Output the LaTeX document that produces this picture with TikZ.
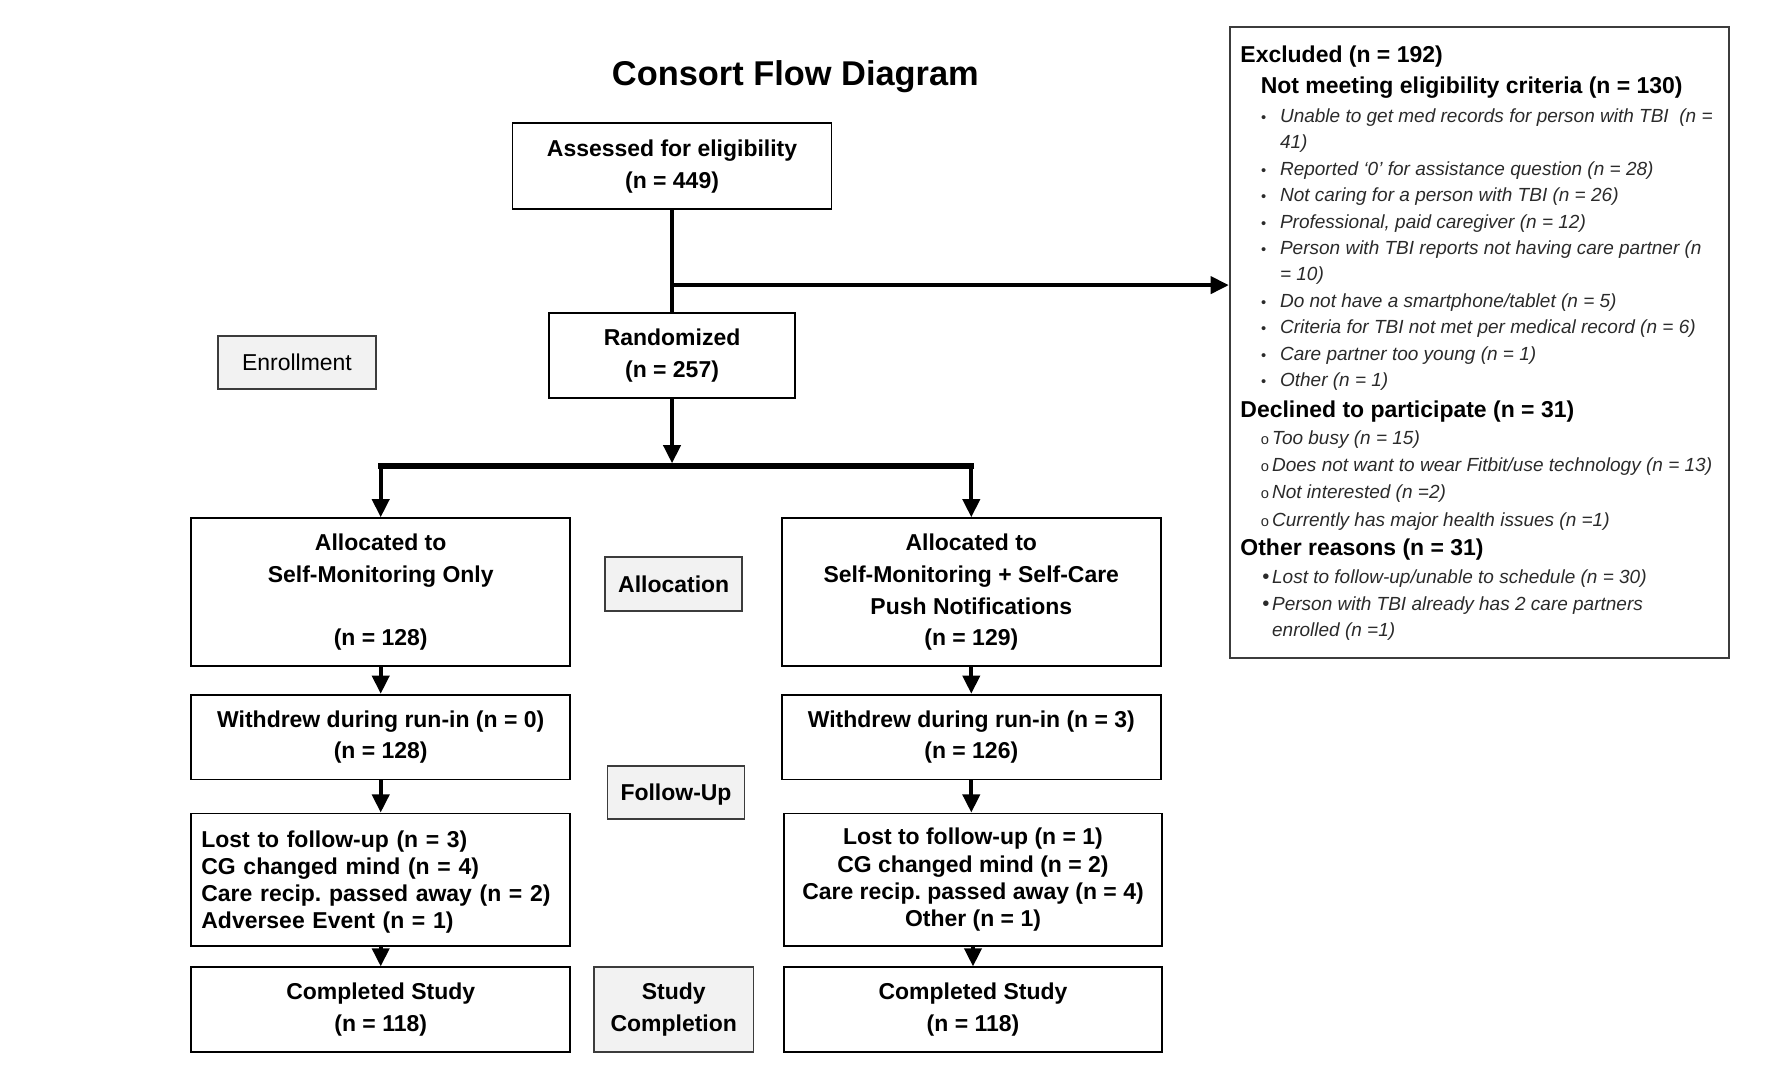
\documentclass[tikz,border=0pt]{standalone}
\usepackage{fontspec}
\setmainfont{Liberation Sans}
\usetikzlibrary{arrows.meta}
\definecolor{lblfill}{HTML}{F2F2F2}
\definecolor{lbldraw}{HTML}{3C3C3C}
\definecolor{itemtxt}{HTML}{2A2A2A}
\newcommand\myBoxFont{\fontsize{10.15}{14}\selectfont\bfseries}
\newcommand\myLostFont{\fontsize{10.15}{12}\selectfont\bfseries}
\newcommand\myRegFont{\fontsize{10.15}{14}\selectfont}
\newcommand\myHdFont{\fontsize{10.15}{12}\selectfont\bfseries}
\newcommand\myItFont{\fontsize{8.4}{10}\selectfont\itshape}
\newcommand\myTitleFont{\fontsize{15.2}{18}\selectfont\bfseries}
\frenchspacing
\begin{document}
\begin{tikzpicture}[x=0.5pt,y=-0.5pt,
 box/.style={draw=black, line width=0.8pt, inner sep=0pt, align=center, font=\myBoxFont, minimum width=167.5pt, minimum height=37.5pt, execute at begin node={\rule{0pt}{9.4pt}}},
 lbl/.style={draw=lbldraw, fill=lblfill, line width=0.8pt, inner sep=0pt, align=center, font=\myBoxFont},
 conn/.style={line width=1.75pt, -{Triangle[width=7.5pt,length=8pt]}},
 trunk/.style={line width=1.75pt},
 exh/.style={anchor=base west, inner sep=0pt, font=\myHdFont},
 exi/.style={anchor=base west, inner sep=0pt, font=\myItFont, text=itemtxt},
 exb/.style={anchor=base, inner sep=0pt, font=\fontsize{6.5}{6}\selectfont, text=itemtxt},
 exo/.style={anchor=base, inner sep=0pt, font=\fontsize{6.5}{6}\selectfont, text=itemtxt},
 exf/.style={anchor=base, inner sep=0pt, font=\fontsize{9}{6}\selectfont, text=itemtxt},
]
\useasboundingbox (0,0) rectangle (1568,952.8);
\node[font=\myTitleFont, inner sep=0pt] (title) at (703,68) {Consort Flow Diagram};

\node[box, minimum width=141pt, minimum height=38pt] (assess) at (594,147) {Assessed for eligibility\\(n = 449)};
\node[box, minimum width=109pt, minimum height=37.5pt] (rand) at (594,314.5) {Randomized\\(n = 257)};
\node[lbl, font=\myRegFont, minimum width=69.5pt, minimum height=23.5pt] (enroll) at (262.5,320.5) {Enrollment};

\node[box, minimum height=65.5pt] (allocL) at (336.5,523.5) {Allocated to\\Self-Monitoring Only\\[14pt](n = 128)};
\node[box, minimum height=65.5pt] (allocR) at (858.5,523.5) {Allocated to\\Self-Monitoring + Self-Care\\Push Notifications\\(n = 129)};
\node[lbl, minimum width=60.5pt, minimum height=24pt] (allocation) at (595.5,516) {Allocation};

\node[box] (withL) at (336.5,651.5) {Withdrew during run-in (n = 0)\\(n = 128)};
\node[box] (withR) at (858.5,651.5) {Withdrew during run-in (n = 3)\\(n = 126)};
\node[lbl, minimum width=60.5pt, minimum height=23.5pt, execute at begin node={\rule{0pt}{9.5pt}}] (follow) at (597.5,700.5) {Follow-Up};

\node[box, font=\myLostFont, minimum height=58.5pt, text width=158.5pt, align=left] (lostL) at (336.5,777.5) {Lost to follow-up (n = 3)\\CG changed mind (n = 4)\\Care recip. passed away (n = 2)\\Adversee Event (n = 1)};
\node[box, font=\myLostFont, minimum width=167pt, minimum height=58.5pt] (lostR) at (860,777.5) {Lost to follow-up (n = 1)\\CG changed mind (n = 2)\\Care recip. passed away (n = 4)\\Other (n = 1)};

\node[box] (compL) at (336.5,892.5) {Completed Study\\(n = 118)};
\node[box, minimum width=167pt] (compR) at (860,892.5) {Completed Study\\(n = 118)};
\node[lbl, minimum width=70.5pt, minimum height=37.5pt, execute at begin node={\rule{0pt}{9.4pt}}] (studyc) at (595.5,892.5) {Study\\Completion};

\node[draw=lbldraw, line width=0.9pt, minimum width=220.5pt, minimum height=279pt, inner sep=0pt] (excl) at (1307.5,303) {};

% excluded text
\begin{scope}[yshift=-1pt]
\node[exh] (e1) at (1096,53) {Excluded (n = 192)};
\node[exh] (e2) at (1114,81) {Not meeting eligibility criteria (n = 130)};
\node[exb] (b1) at (1117,106) {•};
\node[exi] (i1) at (1131,106) {Unable to get med records for person with TBI~~(n =};
\node[exi] (i1b) at (1131,129) {41)};
\node[exb] (b2) at (1117,153) {•};
\node[exi] (i2) at (1131,153) {Reported ‘0’ for assistance question (n = 28)};
\node[exb] (b3) at (1117,176) {•};
\node[exi] (i3) at (1131,176) {Not caring for a person with TBI (n = 26)};
\node[exb] (b4) at (1117,200) {•};
\node[exi] (i4) at (1131,200) {Professional, paid caregiver (n = 12)};
\node[exb] (b5) at (1117,223) {•};
\node[exi] (i5) at (1131,223) {Person with TBI reports not having care partner (n};
\node[exi] (i5b) at (1131,246) {= 10)};
\node[exb] (b6) at (1117,270) {•};
\node[exi] (i6) at (1131,270) {Do not have a smartphone/tablet (n = 5)};
\node[exb] (b7) at (1117,293) {•};
\node[exi] (i7) at (1131,293) {Criteria for TBI not met per medical record (n = 6)};
\node[exb] (b8) at (1117,317) {•};
\node[exi] (i8) at (1131,317) {Care partner too young (n = 1)};
\node[exb] (b9) at (1117,340) {•};
\node[exi] (i9) at (1131,340) {Other (n = 1)};

\node[exh] (e3) at (1096,367) {Declined to participate (n = 31)};
\node[exo] (o1) at (1118,391) {o};
\node[exi] (j1) at (1124,391) {Too busy (n = 15)};
\node[exo] (o2) at (1118,415) {o};
\node[exi] (j2) at (1124,415) {Does not want to wear Fitbit/use technology (n = 13)};
\node[exo] (o3) at (1118,439) {o};
\node[exi] (j3) at (1124,439) {Not interested (n =2)};
\node[exo] (o4) at (1118,463) {o};
\node[exi] (j4) at (1124,463) {Currently has major health issues (n =1)};

\node[exh] (e4) at (1096,489) {Other reasons (n = 31)};
\node[exf] (f1) at (1119,514) {•};
\node[exi] (k1) at (1124,514) {Lost to follow-up/unable to schedule (n = 30)};
\node[exf] (f2) at (1119,538) {•};
\node[exi] (k2) at (1124,538) {Person with TBI already has 2 care partners};
\node[exi] (k2b) at (1124,561) {enrolled (n =1)};
\end{scope}

% connectors
\draw[trunk] (assess.south) -- (rand.north);
\coordinate (split) at (594,252);
\draw[conn] (split) -- (split -| excl.west);
\coordinate (bar) at (594,412);
\coordinate (bartop) at (594,409.5);
\draw[conn] (rand.south) -- (bartop);
\draw[line width=2.5pt, line cap=rect] (bar -| allocL.north) -- (bar -| allocR.north);
\draw[conn] (bar -| allocL.north) -- (allocL.north);
\draw[conn] (bar -| allocR.north) -- (allocR.north);

\draw[conn] (allocL.south) -- (withL.north);
\draw[conn] (withL.south) -- (lostL.north);
\draw[conn] (lostL.south) -- (compL.north);
\draw[conn] (allocR.south) -- (withR.north);
\draw[conn] (withR.south) -- (withR.south |- lostR.north);
\draw[conn] (lostR.south) -- (compR.north);
\end{tikzpicture}
\end{document}
